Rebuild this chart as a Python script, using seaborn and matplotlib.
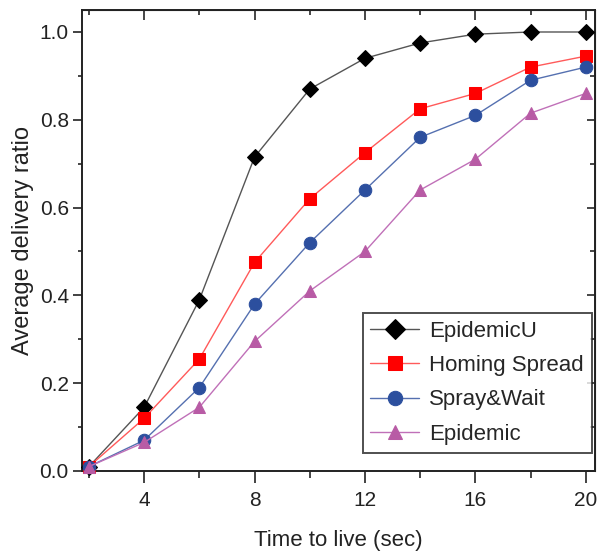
import numpy as np
import matplotlib.pyplot as plt
import seaborn as sns
import pandas as pd
from matplotlib.ticker import MultipleLocator

# data
ttl = [2, 4, 6, 8, 10, 12, 14, 16, 18, 20]
epidemic_u = [0.01, 0.145, 0.39, 0.715, 0.87, 0.94, 0.975, 0.995, 1.0, 1.0]
homing = [0.01, 0.12, 0.255, 0.475, 0.62, 0.725, 0.825, 0.86, 0.92, 0.945]
spray = [0.01, 0.07, 0.19, 0.38, 0.52, 0.64, 0.76, 0.81, 0.89, 0.92]
epidemic = [0.01, 0.065, 0.145, 0.295, 0.41, 0.50, 0.64, 0.71, 0.815, 0.86]
names = ["EpidemicU", "Homing Spread", "Spray&Wait", "Epidemic"]

df = pd.concat([
    pd.DataFrame({"ttl": ttl, "ratio": v, "scheme": n})
    for n, v in zip(names, [epidemic_u, homing, spray, epidemic])
])

sns.set_style("ticks")
plt.rcParams['font.family'] = ['Liberation Sans Narrow', 'Liberation Sans', 'DejaVu Sans']

line_cols = {"EpidemicU": "#555555", "Homing Spread": "#ff5a5a",
             "Spray&Wait": "#5570b0", "Epidemic": "#c070b8"}
mark_cols = {"EpidemicU": "black", "Homing Spread": "#ff0000",
             "Spray&Wait": "#2c4f9e", "Epidemic": "#b85ba5"}
markers = {"EpidemicU": "D", "Homing Spread": "s", "Spray&Wait": "o", "Epidemic": "^"}

fig = plt.figure(figsize=(5.99, 5.58), dpi=100)
ax = fig.add_axes([0.137, 0.156, 0.856, 0.826])

for n in names:
    sub = df[df.scheme == n]
    sns.lineplot(data=sub, x="ttl", y="ratio", ax=ax, color=line_cols[n], lw=1.0,
                 marker=markers[n], markersize=9 if n != "EpidemicU" else 8.5,
                 markerfacecolor=mark_cols[n], markeredgecolor=mark_cols[n],
                 label=n, clip_on=False, zorder=3)

ax.set_xlim(1.75, 20.33)
ax.set_ylim(0, 1.05)
ax.xaxis.set_major_locator(MultipleLocator(4))
ax.xaxis.set_minor_locator(MultipleLocator(2))
ax.yaxis.set_major_locator(MultipleLocator(0.2))
ax.yaxis.set_minor_locator(MultipleLocator(0.1))
ax.yaxis.set_major_formatter(plt.FormatStrFormatter('%.1f'))
ax.tick_params(axis='x', which='major', direction='out', length=8.5, width=1.2,
               labelsize=15, colors='#222222', pad=6)
ax.tick_params(axis='x', which='minor', direction='out', length=5, width=1.2)
ax.tick_params(axis='y', which='major', direction='out', length=6.5, width=1.2,
               labelsize=15, colors='#222222', pad=3)
ax.tick_params(axis='y', which='minor', direction='out', length=3, width=1.2)
for s in ax.spines.values():
    s.set_visible(True)
    s.set_linewidth(1.4)
    s.set_color('#222222')

top = ax.secondary_xaxis('top')
top.xaxis.set_major_locator(MultipleLocator(4))
top.xaxis.set_minor_locator(MultipleLocator(2))
top.tick_params(which='major', direction='in', length=7.5, labeltop=False, width=1.2)
top.tick_params(which='minor', direction='in', length=3.5, width=1.2)
right = ax.secondary_yaxis('right')
right.yaxis.set_major_locator(MultipleLocator(0.2))
right.yaxis.set_minor_locator(MultipleLocator(0.1))
right.tick_params(which='major', direction='in', length=6, labelright=False, width=1.2)
right.tick_params(which='minor', direction='in', length=3.5, width=1.2)

ax.set_xlabel("Time to live (sec)", fontsize=16, color='#222222', labelpad=14)
ax.set_ylabel("Average delivery ratio", fontsize=17, color='#222222', labelpad=4)

leg = ax.legend(loc='lower right', bbox_to_anchor=(0.994, 0.04), borderaxespad=0,
                fontsize=16, frameon=True, fancybox=False,
                edgecolor='#222222', handlelength=2.2, markerscale=1.15,
                labelspacing=0.6, handletextpad=0.45, borderpad=0.35)
leg.get_frame().set_linewidth(1.4)

plt.savefig("out.png", dpi=100)
